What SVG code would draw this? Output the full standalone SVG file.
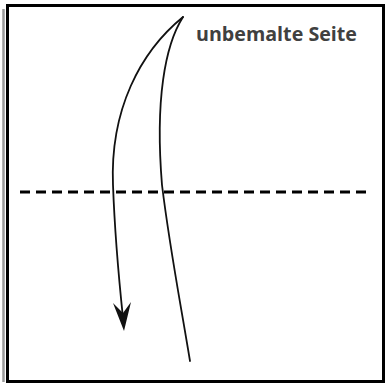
<svg xmlns="http://www.w3.org/2000/svg" width="388" height="387" viewBox="0 0 388 387">
<style>
.curve{fill:none;stroke:#111;stroke-width:1.8;stroke-linecap:round}
.label{font-family:"Open Sans","Liberation Sans",sans-serif;font-weight:bold;font-size:19px;fill:#404040}
</style>
<rect x="0" y="0" width="388" height="387" fill="#fff"/>
<g id="frame">
<line x1="3.5" y1="9" x2="3.5" y2="382" stroke="#9a9a9a" stroke-width="2.5"/>
<rect x="7.5" y="5.5" width="376" height="376" fill="none" stroke="#000" stroke-width="3"/>
</g>
<g id="foldline">
<line x1="20" y1="192" x2="372" y2="192" stroke="#000" stroke-width="3" stroke-dasharray="10,6"/>
</g>
<g id="connectors">
<path class="curve" d="M183,17 C140,52 110,110 113,185 C115,240 119,280 123,318"/>
<path d="M124,331 L113,303 L123,313 L131,302 Z" fill="#111"/>
<path class="curve" d="M183,17 C165,45 155,100 162,185 C170,250 180,300 190,361"/>
</g>
<g id="label">
<text class="label" x="196" y="41" textLength="161" lengthAdjust="spacingAndGlyphs">unbemalte Seite</text>
</g>
</svg>
